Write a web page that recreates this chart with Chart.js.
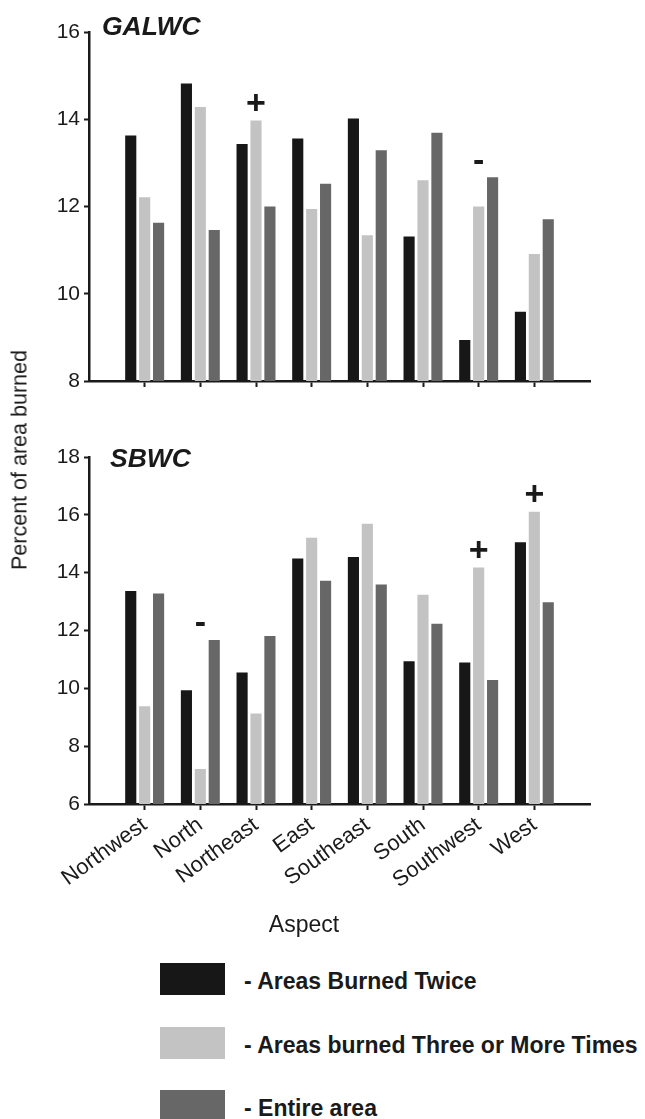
<!DOCTYPE html>
<html>
<head>
<meta charset="utf-8">
<script src="https://cdn.jsdelivr.net/npm/chart.js@4.4.0/dist/chart.umd.min.js"></script>
<style>
body{margin:0;background:#fff;font-family:"Liberation Sans",Arial,sans-serif;color:#1a1a1a}
#wrap{position:relative;width:645px;height:1119px;overflow:hidden}
#c1{position:absolute;left:0;top:0}
#c2{position:absolute;left:0;top:400px}
.ytitle{position:absolute;left:20px;top:460px;transform:translate(-50%,-50%) rotate(-90deg);font-size:21.5px;white-space:nowrap}
.xtitle{position:absolute;left:304px;top:924px;transform:translate(-50%,-50%);font-size:23px}
#legend{position:absolute;left:160px;top:963px}
.li{display:flex;height:63.5px;align-items:flex-start}
.sw{width:65px;height:32px;flex:none}
.lt{margin-left:19px;font-weight:bold;font-size:23px;line-height:36px;white-space:nowrap}
</style>
</head>
<body>
<div id="wrap">
  <canvas id="c1" width="645" height="400"></canvas>
  <canvas id="c2" width="645" height="520"></canvas>
  <div class="ytitle">Percent of area burned</div>
  <div class="xtitle">Aspect</div>
  <div id="legend"></div>
</div>
<script>
// datos
const aspects=['Northwest','North','Northeast','East','Southeast','South','Southwest','West'];
const seriesNames=['Areas Burned Twice','Areas burned Three or More Times','Entire area'];

const galTwice =[13.63,14.82,13.43,13.56,14.02,11.31,8.94,9.59];
const galThree =[12.21,14.28,13.97,11.94,11.34,12.60,12.00,10.91];
const galEntire=[11.63,11.46,12.00,12.52,13.29,13.69,12.67,11.71];

const sbTwice  =[13.37,9.93,10.55,14.49,14.54,10.94,10.89,15.05];
const sbThree  =[9.38,7.21,9.13,15.21,15.69,13.24,14.18,16.11];
const sbEntire =[13.28,11.67,11.81,13.72,13.59,12.23,10.29,12.98];

const galTicks=[8,10,12,14,16];
const sbTicks=[6,8,10,12,14,16,18];

const galMarks=[{aspect:'Northeast',sign:'+'},{aspect:'Southwest',sign:'-'}];
const sbMarks=[{aspect:'North',sign:'-'},{aspect:'Southwest',sign:'+'},{aspect:'West',sign:'+'}];

/* ============================================================ estilos */
const colors=['#171717','#c3c3c3','#676767'];
const ink='#1a1a1a';
const FONT='"Liberation Sans", Arial, sans-serif';

// una categoría vacía a cada lado, como en el original
const pad=a=>[null,...a,null];
const padLabels=['',...aspects,''];

const annotPlugin={
  id:'annot',
  afterDatasetsDraw(chart,args,opts){
    const ctx=chart.ctx, labels=chart.data.labels;
    ctx.save();
    ctx.fillStyle=ink;
    ctx.textAlign='center';ctx.textBaseline='middle';
    ctx.font='bold 34px '+FONT;
    (opts.marks||[]).forEach(m=>{
      const i=labels.indexOf(m.aspect);
      const bars=chart.data.datasets.map((d,k)=>chart.getDatasetMeta(k).data[i]);
      const top=Math.min(...bars.map(b=>b.y));
      ctx.fillText(m.sign,bars[1].x,top-16);
    });
    if(opts.title){
      ctx.textAlign='left';ctx.textBaseline='alphabetic';
      ctx.font='italic bold 26.5px '+FONT;
      ctx.fillText(opts.title,chart.chartArea.left+opts.titleDx,opts.titleY);
    }
    ctx.restore();
  }
};

function makePanel(id,vals,ticks,marks,title,titleDx,titleY,showLabels,padTop,xHeight){
  return new Chart(document.getElementById(id).getContext('2d'),{
    type:'bar',
    data:{labels:padLabels,datasets:vals.map((v,k)=>({
      label:seriesNames[k],data:pad(v),backgroundColor:colors[k],borderWidth:0,
      categoryPercentage:0.75,barPercentage:0.8
    }))},
    options:{
      responsive:false,animation:false,
      layout:{padding:{left:0,right:55,top:padTop,bottom:0}},
      plugins:{legend:{display:false},tooltip:{enabled:false},
        annot:{marks:marks,title:title,titleDx:titleDx,titleY:titleY}},
      scales:{
        x:{type:'category',offset:false,
          afterFit:s=>{s.height=xHeight;},
          border:{display:true,color:ink,width:2.5},
          grid:{offset:false,drawOnChartArea:false,drawTicks:true,tickLength:6,tickWidth:2,
            color:c=>(c.tick&&c.tick.label==='')?'rgba(0,0,0,0)':ink},
          ticks:{display:showLabels,autoSkip:false,minRotation:36,maxRotation:36,padding:2,
            color:ink,font:{family:FONT,size:22}}
        },
        y:{min:ticks[0],max:ticks[ticks.length-1],
          afterFit:s=>{s.width=89;},
          afterBuildTicks:s=>{s.ticks=ticks.map(v=>({value:v}));},
          border:{display:true,color:ink,width:2.5},
          grid:{drawOnChartArea:false,drawTicks:true,tickLength:5,tickWidth:2,color:ink},
          ticks:{color:ink,padding:4,font:{family:FONT,size:21}}
        }
      }
    },
    plugins:[annotPlugin]
  });
}

makePanel('c1',[galTwice,galThree,galEntire],galTicks,galMarks,'GALWC',13,35,false,32,19);
makePanel('c2',[sbTwice,sbThree,sbEntire],sbTicks,sbMarks,'SBWC',21,67,true,57,116);

// leyenda
document.getElementById('legend').innerHTML=seriesNames.map((n,k)=>
  `<div class="li"><div class="sw" style="background:${colors[k]}"></div><div class="lt">- ${n}</div></div>`).join('');
</script>
</body>
</html>
